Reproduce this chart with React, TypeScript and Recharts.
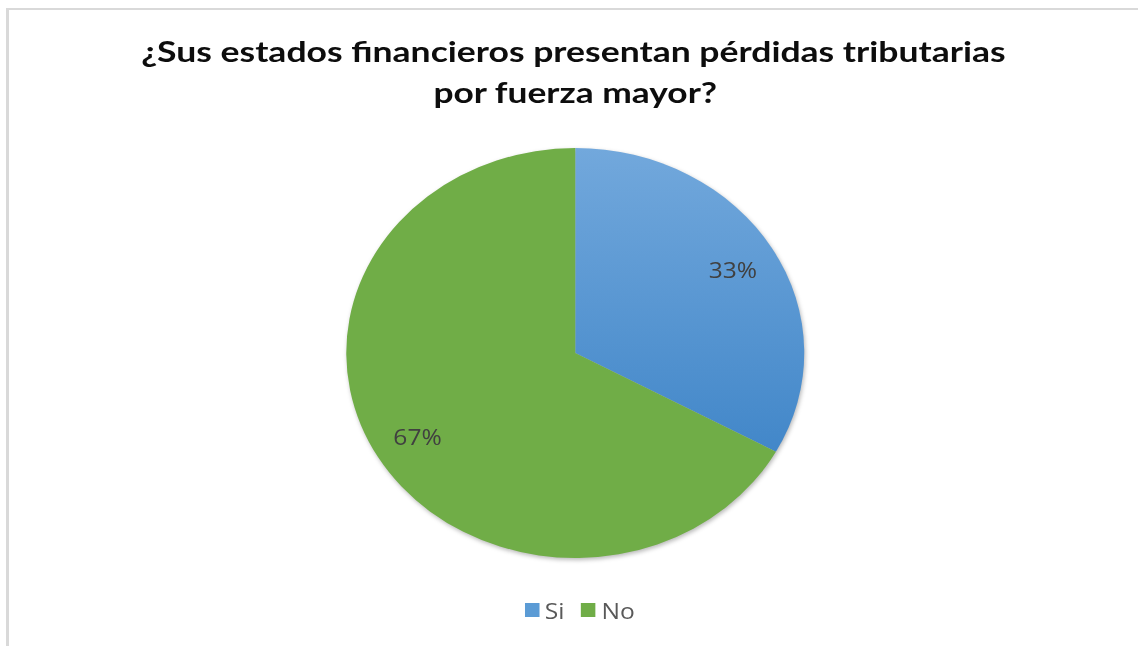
import React from 'react';
import { PieChart, Pie, Cell, Legend } from 'recharts';

const categories = ['Si', 'No'];
const values = [33, 67];
const sliceColors = ['url(#siGradient)', '#70ad47'];
const legendColors = ['#5b9bd5', '#70ad47'];
const titleLines = ['¿Sus estados financieros presentan pérdidas tributarias', 'por fuerza mayor?'];

const data = categories.map((name, i) => ({ name, value: values[i] }));

const SX = 1.117;
const CHART_W = 1030;
const CHART_H = 646;
const RAD = Math.PI / 180;

function renderLabel(props: any) {
  const { cx, cy, midAngle, outerRadius, percent } = props;
  const r = outerRadius * 0.8;
  const x = cx + r * Math.cos(-midAngle * RAD);
  const y = cy + r * Math.sin(-midAngle * RAD);
  return (
    <text
      x={x}
      y={y}
      textAnchor="middle"
      dominantBaseline="central"
      fill="#404040"
      fontSize={22}
      fontFamily="'Open Sans', sans-serif"
    >
      {`${Math.round(percent * 100)}%`}
    </text>
  );
}

function LegendContent(props: any) {
  const payload = [...(props.payload || [])].sort(
    (a: any, b: any) => categories.indexOf(a.value) - categories.indexOf(b.value)
  );
  return (
    <div
      style={{
        display: 'flex',
        justifyContent: 'center',
        alignItems: 'center',
        paddingLeft: 8,
        fontFamily: "'Open Sans', sans-serif",
        fontSize: 22,
        color: '#595959',
      }}
    >
      {payload.map((entry: any, i: number) => {
        const idx = categories.indexOf(entry.value);
        return (
          <div key={i} style={{ display: 'flex', alignItems: 'center', marginRight: i < payload.length - 1 ? 15 : 0 }}>
            <span
              style={{
                display: 'inline-block',
                width: 13,
                height: 14,
                background: legendColors[idx >= 0 ? idx : i],
                marginRight: 5,
              }}
            />
            <span style={{ lineHeight: '24px' }}>{entry.value}</span>
          </div>
        );
      })}
    </div>
  );
}

export default function App() {
  return (
    <div
      style={{
        position: 'absolute',
        left: 0,
        top: 0,
        width: 1138,
        height: 646,
        background: '#ffffff',
        overflow: 'hidden',
      }}
    >
      <style>{`.recharts-pie { filter: drop-shadow(1px 2px 2px rgba(0,0,0,0.28)); }`}</style>
      <div
        style={{
          position: 'absolute',
          left: 6,
          top: 8,
          width: 1200,
          height: 700,
          borderTop: '2px solid #d9d9d9',
          borderLeft: '3px solid #d9d9d9',
        }}
      />
      <div
        style={{
          position: 'absolute',
          left: 0,
          top: 0,
          width: CHART_W,
          height: CHART_H,
          transform: `scaleX(${SX})`,
          transformOrigin: '0 0',
        }}
      >
        <svg
          width={CHART_W}
          height={130}
          style={{ position: 'absolute', left: 0, top: 0 }}
        >
          <text
            x={513.4}
            y={62}
            textAnchor="middle"
            fontFamily="Lato, 'Open Sans', sans-serif"
            fontWeight="bold"
            fontSize={29}
            fill="#0d0d0d"
            textLength={774}
            lengthAdjust="spacingAndGlyphs"
          >
            {titleLines[0]}
          </text>
          <text
            x={515}
            y={103}
            textAnchor="middle"
            fontFamily="Lato, 'Open Sans', sans-serif"
            fontWeight="bold"
            fontSize={29}
            fill="#0d0d0d"
            textLength={254}
            lengthAdjust="spacingAndGlyphs"
          >
            {titleLines[1]}
          </text>
        </svg>
        <div style={{ position: 'absolute', left: 0, top: 0 }}>
          <PieChart width={CHART_W} height={CHART_H} margin={{ top: 0, right: 0, bottom: 0, left: 0 }}>
            <defs>
              <linearGradient id="siGradient" x1="0" y1="0" x2="0" y2="1">
                <stop offset="0%" stopColor="#72a8dc" />
                <stop offset="100%" stopColor="#4287c9" />
              </linearGradient>
            </defs>
            <Pie
              data={data}
              dataKey="value"
              nameKey="name"
              cx={515}
              cy={353}
              outerRadius={205}
              startAngle={90}
              endAngle={-270}
              stroke="none"
              label={renderLabel}
              labelLine={false}
              isAnimationActive={false}
            >
              {data.map((d, i) => (
                <Cell key={d.name} fill={sliceColors[i]} />
              ))}
            </Pie>
            <Legend
              content={<LegendContent />}
              wrapperStyle={{ top: 598, left: 0, width: CHART_W, bottom: 'auto' }}
            />
          </PieChart>
        </div>
      </div>
    </div>
  );
}
